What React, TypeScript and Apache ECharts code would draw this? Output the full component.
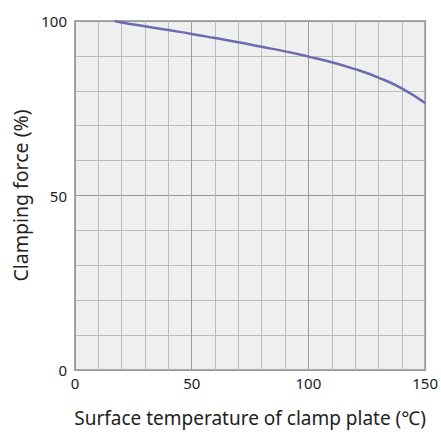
import React, { useEffect, useRef } from "react";
import * as echarts from "echarts";

const temperature = [17, 20, 30, 40, 50, 60, 70, 80, 90, 100, 110, 120, 130, 140, 150];
const force = [100, 99.6, 98.5, 97.4, 96.3, 95.1, 93.9, 92.6, 91.3, 89.8, 88.2, 86.2, 83.8, 80.7, 76.5];
const xTickLabels = [0, 50, 100, 150];
const yTickLabels = [0, 50, 100];

const FONT = "'Noto Sans', 'Open Sans', sans-serif";
const gridColors = ["#9a9a9a", "#bcbcbc", "#bcbcbc", "#bcbcbc", "#bcbcbc"];

export default function App() {
  const ref = useRef<HTMLDivElement>(null);
  useEffect(() => {
    const chart = echarts.init(ref.current!, null, { renderer: "svg" });
    const axisCommon = {
      type: "value" as const,
      interval: 10,
      axisTick: { show: false },
      axisLine: { show: false },
    };
    chart.setOption({
      animation: false,
      grid: {
        left: 75, right: 15, top: 21, bottom: 60,
        show: true, backgroundColor: "#efefef",
        borderColor: "#a8a8a8", borderWidth: 2,
      },
      xAxis: {
        ...axisCommon,
        min: 0, max: 150,
        name: "Surface temperature of clamp plate (℃)",
        nameLocation: "middle",
        nameGap: 38,
        nameTextStyle: { fontFamily: FONT, fontSize: 19, color: "#222" },
        axisLabel: {
          fontFamily: FONT, fontSize: 15, color: "#222", margin: 5,
          showMaxLabel: true,
          formatter: (v: number) => (xTickLabels.includes(v) ? String(v) : ""),
        },
        splitLine: { show: true, lineStyle: { color: gridColors, width: 1 } },
      },
      yAxis: {
        ...axisCommon,
        min: 0, max: 100,
        name: "Clamping force (%)",
        nameLocation: "middle",
        nameGap: 42,
        nameTextStyle: { fontFamily: FONT, fontSize: 19.5, color: "#222" },
        axisLabel: {
          fontFamily: FONT, fontSize: 15, color: "#222", margin: 8,
          formatter: (v: number) => (yTickLabels.includes(v) ? String(v) : ""),
        },
        splitLine: { show: true, lineStyle: { color: gridColors, width: 1 } },
      },
      series: [
        {
          type: "line",
          data: temperature.map((t, i) => [t, force[i]]),
          smooth: true,
          showSymbol: false,
          lineStyle: { color: "#6b6bb2", width: 2.5 },
        },
      ],
    });
    return () => chart.dispose();
  }, []);
  return <div ref={ref} style={{ width: 441, height: 432, position: "absolute", left: 0, top: 0, background: "#fff" }} />;
}
